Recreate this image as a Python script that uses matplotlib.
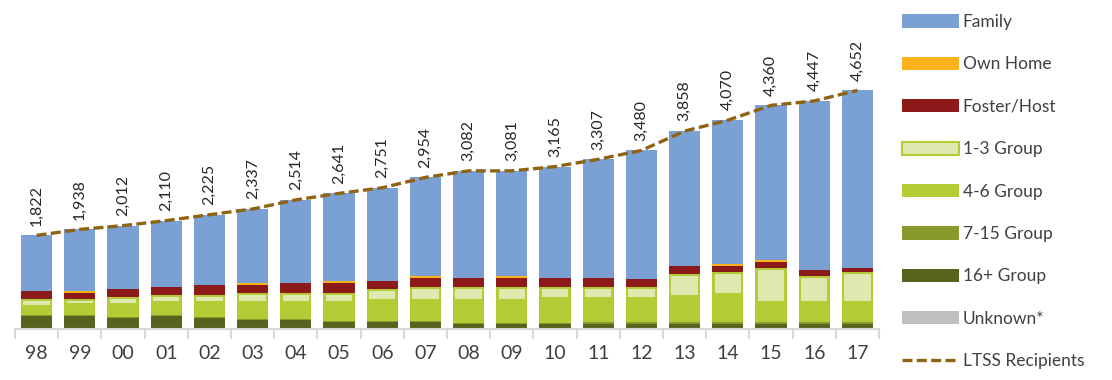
import matplotlib
matplotlib.use('Agg')
import matplotlib.pyplot as plt
from matplotlib.patches import Patch
from matplotlib.lines import Line2D
import numpy as np

plt.rcParams['font.family'] = ['Lato', 'DejaVu Sans']

years = ['98', '99', '00', '01', '02', '03', '04', '05', '06', '07',
         '08', '09', '10', '11', '12', '13', '14', '15', '16', '17']

ltss = [1822, 1938, 2012, 2110, 2225, 2337, 2514, 2641, 2751, 2954,
        3082, 3081, 3165, 3307, 3480, 3858, 4070, 4360, 4447, 4652]

unknown = [0, 0, 0, 0, 0, 0, 0, 0, 0, 0, 0, 0, 0, 0, 0, 0, 0, 0, 0, 0]
g16 = [248, 248, 209, 248, 209, 170, 170, 131, 131, 131,
       92, 92, 92, 92, 92, 92, 92, 92, 92, 92]
g7_15 = [15, 15, 15, 15, 15, 15, 15, 15, 15, 15,
         20, 20, 25, 30, 39, 35, 35, 30, 30, 30]
g4_6 = [151, 190, 229, 229, 268, 307, 307, 346, 395, 395,
        429, 429, 463, 458, 449, 492, 531, 370, 370, 370]
g1_3 = [160, 120, 166, 166, 166, 205, 205, 205, 234, 279,
        279, 279, 240, 240, 240, 449, 449, 692, 536, 614]
foster = [162, 123, 156, 156, 195, 162, 195, 201, 162, 162,
          162, 162, 162, 162, 156, 156, 117, 117, 117, 78]
own_home = [0, 35, 0, 0, 0, 39, 0, 39, 0, 39,
            0, 39, 0, 0, 0, 0, 39, 39, 0, 0]

LIME = '#b3cb35'
PALE = '#dfe8ae'

segments = [
    ('Unknown*', unknown, '#bfbfbf'),
    ('16+ Group', g16, '#58641e'),
    ('7-15 Group', g7_15, '#879a2b'),
    ('4-6 Group', g4_6, LIME),
    ('1-3 Group', g1_3, LIME),
    ('Foster/Host', foster, '#8c1a1b'),
    ('Own Home', own_home, '#fbb21b'),
]

fig = plt.figure(figsize=(11.12, 3.8), dpi=100)
ax = fig.add_axes([0.0135, 0.135, 0.777, 0.674])

x = np.arange(len(years))
w = 0.72
bottom = np.zeros(len(years))
for name, vals, col in segments:
    vals = np.array(vals, dtype=float)
    ax.bar(x, vals, w, bottom=bottom, color=col, linewidth=0)
    if name == '1-3 Group':
        # pale fill inside the lime border
        inset = 40
        ax.bar(x, vals - 2 * inset, w - 0.11, bottom=bottom + inset,
               color=PALE, linewidth=0)
    bottom += vals
family = np.array(ltss) - bottom
ax.bar(x, family, w, bottom=bottom, color='#7ba1d4', linewidth=0)

ax.plot(x, ltss, color='#8e6312', lw=2.4, dashes=(3, 1.3), zorder=5)
for xi, v in zip(x, ltss):
    ax.annotate(f'{v:,}', (xi, v), xytext=(0, 7), textcoords='offset points',
                rotation=90, ha='center', va='bottom', fontsize=11.5,
                color='#262626', annotation_clip=False)

ax.set_xlim(-0.5, len(years) - 0.5)
ax.set_ylim(0, 5000)
ax.set_yticks([])
ax.set_xticks(x)
ax.set_xticklabels(years, fontsize=14, color='#404040')
ax.set_xticks(np.arange(-0.5, len(years)), minor=True)
ax.tick_params(axis='x', which='major', length=0, pad=12)
ax.tick_params(axis='x', which='minor', length=7, width=1.5, color='#d9d9d9')
for s in ['top', 'left', 'right']:
    ax.spines[s].set_visible(False)
ax.spines['bottom'].set_color('#d9d9d9')
ax.spines['bottom'].set_linewidth(1.5)

handles = [
    Patch(facecolor='#7ba1d4', label='Family'),
    Patch(facecolor='#fbb21b', label='Own Home'),
    Patch(facecolor='#8c1a1b', label='Foster/Host'),
    Patch(facecolor=PALE, edgecolor=LIME, linewidth=1.5, label='1-3 Group'),
    Patch(facecolor=LIME, label='4-6 Group'),
    Patch(facecolor='#879a2b', label='7-15 Group'),
    Patch(facecolor='#58641e', label='16+ Group'),
    Patch(facecolor='#bfbfbf', label='Unknown*'),
    Line2D([0], [0], color='#8e6312', lw=2.4, dashes=(3, 1.3), label='LTSS Recipients'),
]
fig.legend(handles=handles, loc='upper left', bbox_to_anchor=(0.8, 0.995),
           frameon=False, fontsize=12.5, labelcolor='#404040',
           handlelength=3.3, handleheight=0.8, handletextpad=0.2,
           labelspacing=1.52, borderaxespad=0.3)

fig.savefig('out.png', dpi=100)
